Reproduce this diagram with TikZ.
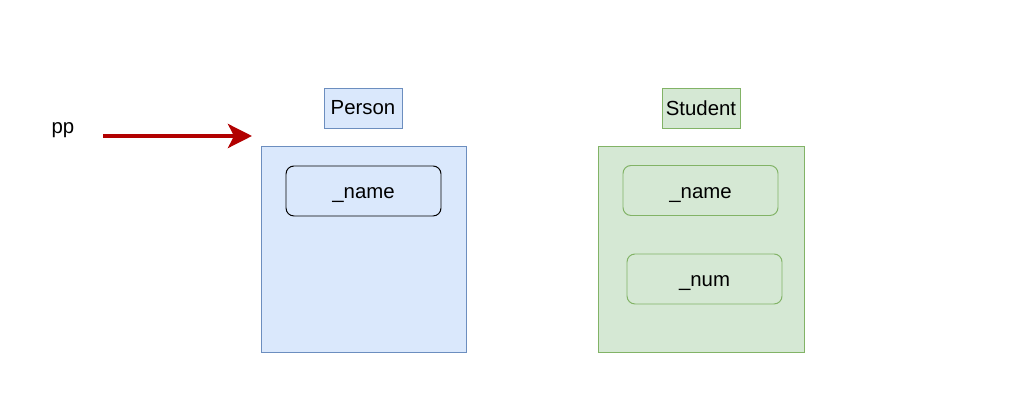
\documentclass[tikz,border=0pt]{standalone}
\usepackage{fontspec}
\setmainfont{Liberation Sans}
\usetikzlibrary{positioning, arrows.meta}
\definecolor{boxblue}{RGB}{218,232,252}
\definecolor{borderblue}{RGB}{108,142,191}
\definecolor{boxgreen}{RGB}{213,232,212}
\definecolor{bordergreen}{RGB}{130,179,102}
\definecolor{arrowred}{RGB}{178,0,0}
\tikzset{
    basebox/.style={
        align=center,
        line width=0.7pt,
        font=\fontsize{14.5}{17}\selectfont,
        inner sep=0pt,
        outer sep=0pt
    },
    bluelabel/.style={basebox, fill=boxblue, draw=borderblue, minimum width=1.95cm, minimum height=1cm},
    greenlabel/.style={basebox, fill=boxgreen, draw=bordergreen, minimum width=1.95cm, minimum height=1cm},
    bluearea/.style={basebox, fill=boxblue, draw=borderblue, minimum width=5.125cm, minimum height=5.15cm},
    greenarea/.style={basebox, fill=boxgreen, draw=bordergreen, minimum width=5.15cm, minimum height=5.15cm},
    bluefield/.style={basebox, text height=11pt, text depth=0pt, rounded corners=0.2cm, fill=boxblue, draw=black, minimum width=3.875cm, minimum height=1.25cm},
    greenfield/.style={basebox, text height=11pt, text depth=0pt, rounded corners=0.2cm, fill=boxgreen, draw=bordergreen, minimum width=3.875cm, minimum height=1.25cm},
    refarrow/.style={-{Stealth[length=6mm, width=6mm, inset=1.5mm]}, line width=2.8pt, draw=arrowred, fill=arrowred}
}

\begin{document}
\begin{tikzpicture}

    % Marco de la imagen
    \useasboundingbox (0, 0) rectangle (25.625, 10.45);

    % 1. Referencia
    \node[basebox, text depth=0pt] (pp) at (1.575, 7.25) {pp};
    \coordinate (pp_start) at (2.575, 7.05);
    \coordinate (pp_end) at (6.3, 7.05);

    % 2. Objeto Person
    \node[bluelabel] (person_lbl) at (9.075, 7.75) {Person};
    \node[bluearea] (person_box) at (9.0875, 4.225) {};
    \node[bluefield] (person_name) at (9.0875, 5.675) {\_name};

    % 3. Objeto Student
    \node[greenlabel] (student_lbl) at (17.525, 7.75) {Student};
    \node[greenarea] (student_box) at (17.525, 4.225) {};
    \node[greenfield] (student_name) at (17.5125, 5.6875) {\_name};
    \node[greenfield] (student_num) at (17.6125, 3.475) {\_num};

    % Flecha
    \draw[refarrow] (pp_start) -- (pp_end);

\end{tikzpicture}
\end{document}
